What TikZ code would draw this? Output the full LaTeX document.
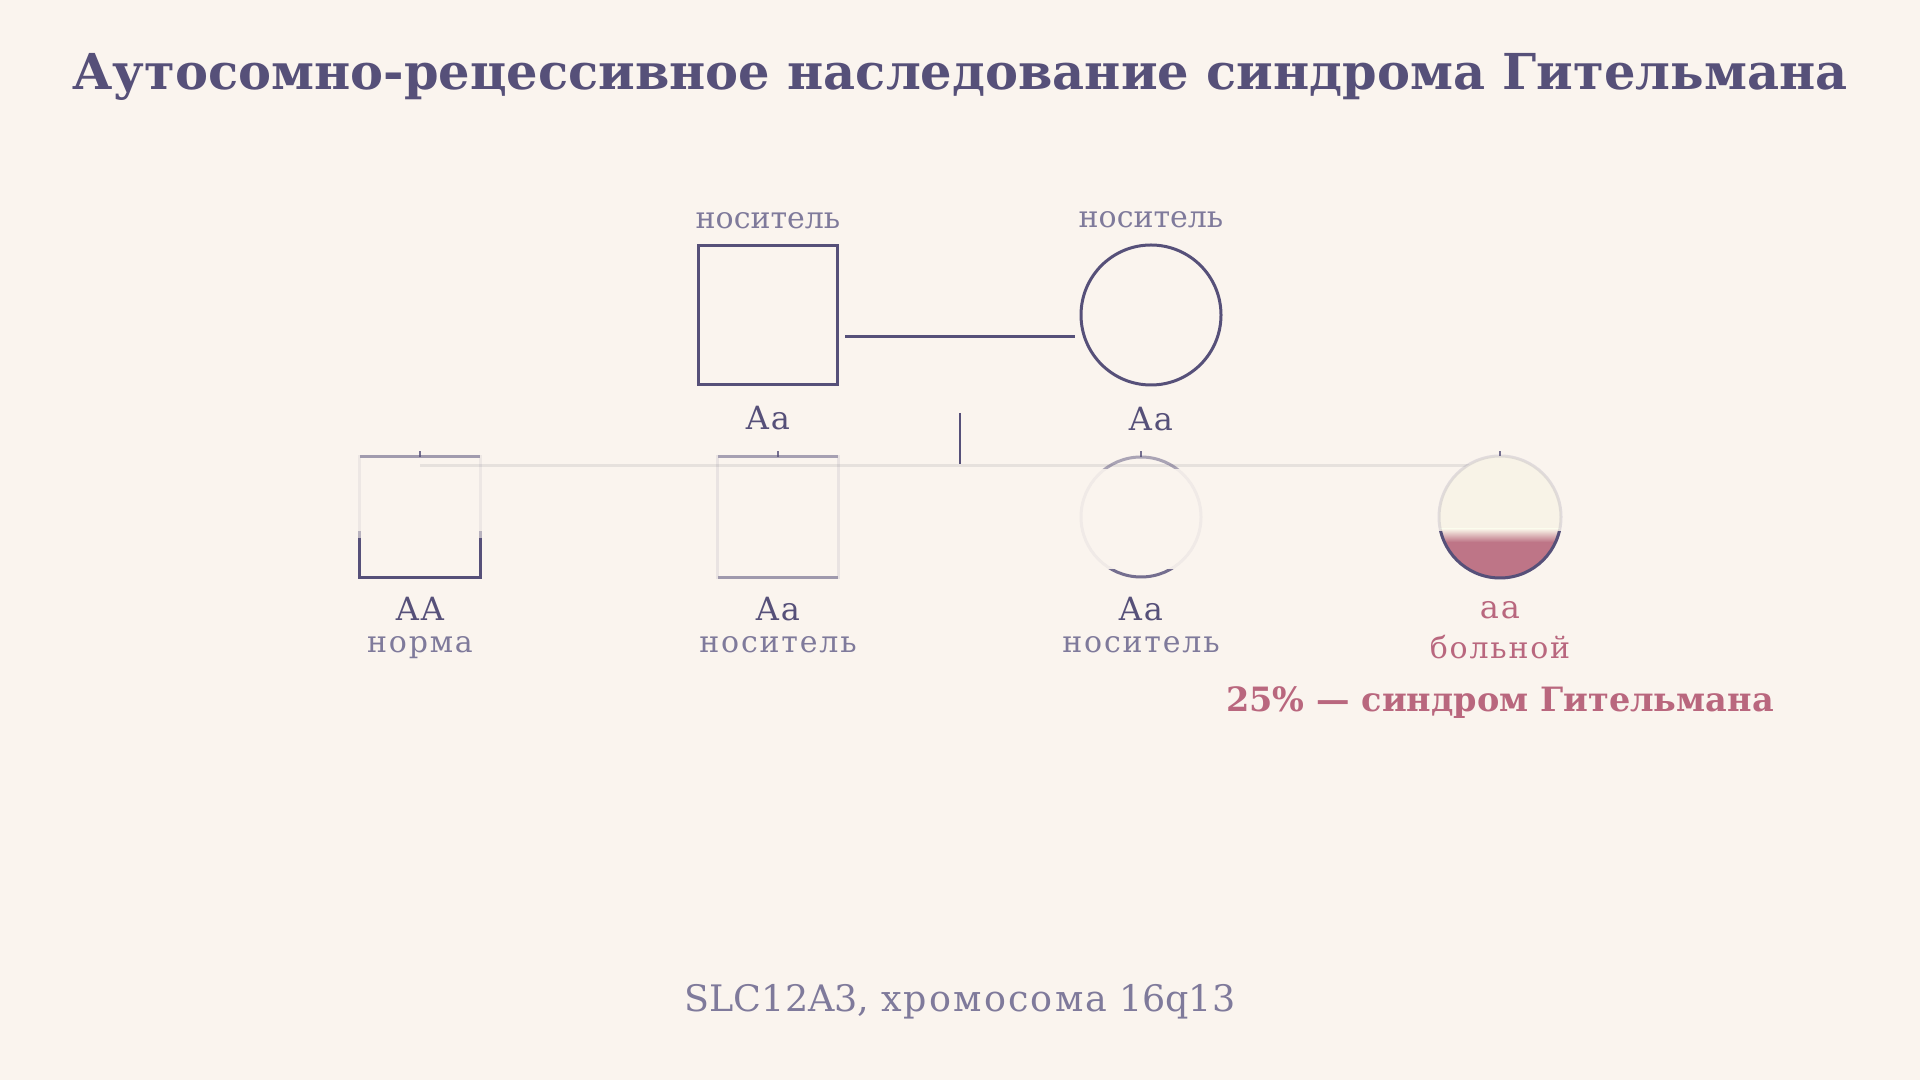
\documentclass[tikz,border=0pt]{standalone}
\usepackage{fontspec}
\setmainfont{DejaVu Serif}
\newfontfamily\spacedserif[LetterSpace=6]{DejaVu Serif}
\usetikzlibrary{positioning,calc}

\definecolor{bgcream}{HTML}{FAF4EE}
\definecolor{ink}{HTML}{565079}
\definecolor{softink}{HTML}{7F7A9B}
\definecolor{rosetext}{HTML}{B9677E}
\definecolor{rosefill}{HTML}{BE7587}
\definecolor{sibgray}{HTML}{E6E1DD}
\definecolor{glow}{HTML}{F8F3E7}

\newcommand{\titlesize}{\fontsize{49.5bp}{60bp}\selectfont}
\newcommand{\tagsize}{\fontsize{30bp}{36bp}\selectfont}
\newcommand{\genosize}{\fontsize{32bp}{38bp}\selectfont}
\newcommand{\risksize}{\fontsize{33.5bp}{40bp}\selectfont}
\newcommand{\footsize}{\fontsize{36.5bp}{44bp}\selectfont}

\tikzset{
  male/.style={rectangle, draw=ink, line width=3bp, minimum size=139bp, inner sep=0pt},
  female/.style={circle, draw=ink, line width=3bp, minimum size=140bp, inner sep=0pt},
  kidsquare/.style={rectangle, minimum size=120bp, inner sep=0pt},
  kidcircle/.style={circle, minimum size=120bp, inner sep=0pt},
  tag/.style={font=\tagsize, text=softink, inner sep=0pt},
  geno/.style={font=\genosize\spacedserif, text=ink, inner sep=0pt},
  pheno/.style={font=\tagsize\spacedserif, text=softink, inner sep=0pt},
  pedline/.style={draw=ink, line width=3bp},
  tickline/.style={draw=ink, line width=2bp}
}

\begin{document}
\begin{tikzpicture}[x=1bp, y=1bp, node distance=20bp]
  % background
  \fill[bgcream] (0,0) rectangle (1920,1080);
  \useasboundingbox (0,0) rectangle (1920,1080);

  % title
  \node[font=\titlesize\bfseries, text=ink] (title) at (960,1003)
    {Аутосомно-рецессивное наследование синдрома Гительмана};

  % parents
  \node[male] (father) at (768,765) {};
  \node[female] (mother) at (1151,765) {};
  \node[tag, above=15bp of father] (fathertag) {носитель};
  \node[tag, above=15bp of mother] (mothertag) {носитель};
  \node[geno, below=20bp of father] (fathergeno) {Aa};
  \node[geno, below=20bp of mother] (mothergeno) {Aa};
  \draw[pedline] ($(father.east)+(6,-22)$) -- ($(mother.west)+(-5,-22)$);

  % children
  \node[kidsquare] (kid1) at (420,563) {};
  \node[kidsquare] (kid2) at (778,563) {};
  \node[kidcircle] (kid3) at (1141,563) {};
  \node[kidcircle] (kid4) at (1500,563) {};

  % descent and sibship
  \coordinate (descent) at (960,667);
  \coordinate (sibleft) at ($(kid1.north)+(0,-9)$);
  \coordinate (sibright) at ($(kid4.north)+(0,-9)$);
  \draw[tickline] (descent) -- (descent |- sibleft);
  \draw[sibgray, line width=3bp] (sibleft) -- (sibright);
  \foreach \k in {kid1,kid2,kid3,kid4}
    \draw[tickline, draw opacity=0.8] (\k.north) -- ++(0,6);

  % kid1: fading square
  \draw[pedline, draw opacity=0.08] (kid1.south west) rectangle (kid1.north east);
  \draw[pedline, draw opacity=0.5] (kid1.north west) -- (kid1.north east);
  \begin{scope}
    \clip ($(kid1.south west)+(-5,-5)$) rectangle ($(kid1.east)+(5,-15)$);
    \draw[pedline, draw opacity=0.35] (kid1.south west) rectangle (kid1.north east);
  \end{scope}
  \begin{scope}
    \clip ($(kid1.south west)+(-5,-5)$) rectangle ($(kid1.east)+(5,-22)$);
    \draw[pedline] (kid1.south west) rectangle (kid1.north east);
  \end{scope}

  % kid2: faint square
  \draw[pedline, draw opacity=0.1] (kid2.south west) rectangle (kid2.north east);
  \draw[pedline, draw opacity=0.45] (kid2.north west) -- (kid2.north east);
  \draw[pedline, draw opacity=0.5] (kid2.south west) -- (kid2.south east);

  % kid3: faint circle
  \draw[pedline, draw opacity=0.06] (kid3.center) circle[radius=60];
  \begin{scope}
    \clip ($(kid3.north)+(-40,-12)$) rectangle ($(kid3.north)+(40,5)$);
    \draw[pedline, draw opacity=0.45] (kid3.center) circle[radius=60];
  \end{scope}
  \begin{scope}
    \clip ($(kid3.south)+(-40,-5)$) rectangle ($(kid3.south)+(40,8)$);
    \draw[pedline, draw opacity=0.8] (kid3.center) circle[radius=60];
  \end{scope}

  % kid4: affected circle
  \fill[glow] (kid4.center) circle[radius=61];
  \begin{scope}
    \clip (kid4.center) circle[radius=61];
    \fill[rosefill] ($(kid4.south)+(-70,-2)$) rectangle ($(kid4.center)+(70,-25)$);
    \shade[top color=glow, bottom color=rosefill] ($(kid4.center)+(-70,-25)$) rectangle ($(kid4.center)+(70,-12)$);
  \end{scope}
  \draw[pedline, draw opacity=0.15] (kid4.center) circle[radius=61];
  \begin{scope}
    \clip ($(kid4.south)+(-70,-5)$) rectangle ($(kid4.center)+(70,-15)$);
    \draw[pedline] (kid4.center) circle[radius=61];
  \end{scope}

  % children labels
  \node[geno, below=20bp of kid1] (kid1geno) {AA};
  \node[geno, below=20bp of kid2] (kid2geno) {Aa};
  \node[geno, below=20bp of kid3] (kid3geno) {Aa};
  \node[geno, text=rosetext, below=24bp of kid4] (kid4geno) {aa};
  \node[pheno, below=15bp of kid1geno] (kid1pheno) {норма};
  \node[pheno, below=15bp of kid2geno] (kid2pheno) {носитель};
  \node[pheno, below=15bp of kid3geno] (kid3pheno) {носитель};
  \node[pheno, text=rosetext, below=16bp of kid4geno] (kid4pheno) {больной};
  \node[font=\risksize\bfseries, text=rosetext, below=24bp of kid4pheno] (risk)
    {25\% — синдром Гительмана};

  % footer
  \node[font=\footsize, text=softink] (gene) at (960,78) {SLC12A3, {\spacedserif хромосома} 16q13};
\end{tikzpicture}
\end{document}
